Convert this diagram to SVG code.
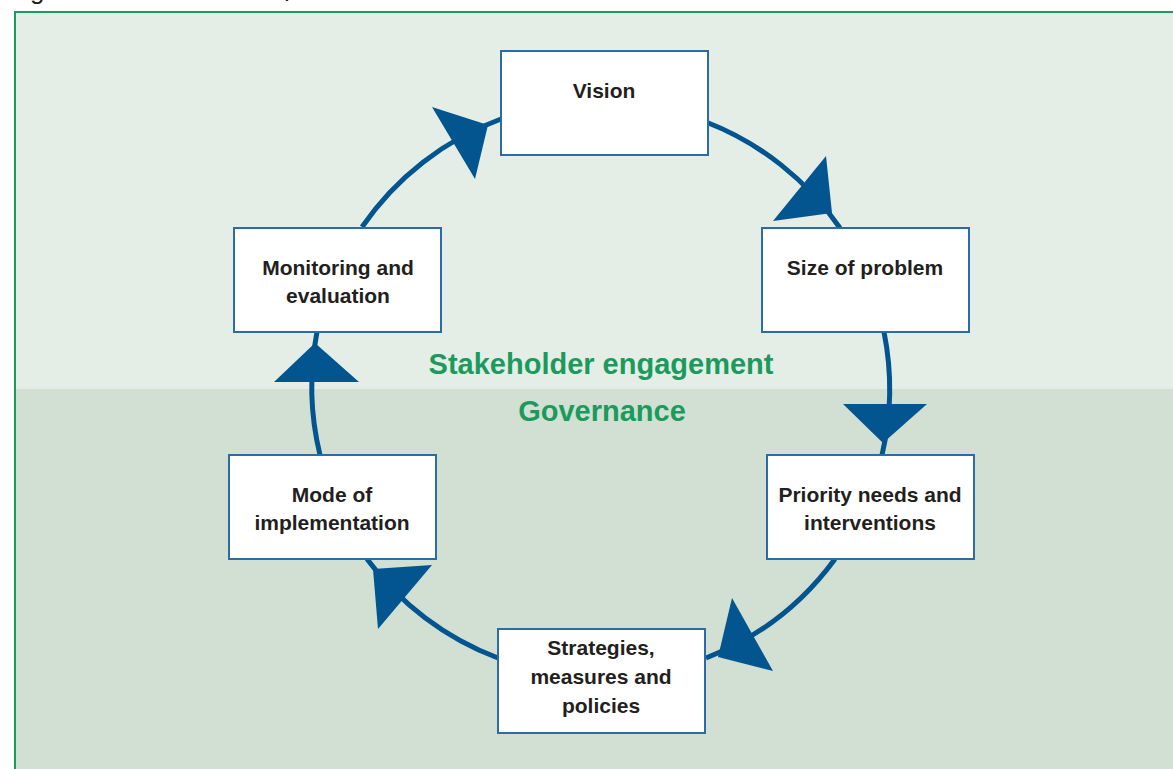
<svg xmlns="http://www.w3.org/2000/svg" width="1173" height="769" viewBox="0 0 1173 769">
<style>
.box{fill:#ffffff;stroke:#2a6ca3;stroke-width:2}
.lbl{font-family:"Liberation Sans",Arial,sans-serif;font-weight:bold;font-size:21px;fill:#231f20;text-anchor:middle}
.ctr{font-family:"Liberation Sans",Arial,sans-serif;font-weight:bold;font-size:29px;fill:#1c9a5e;text-anchor:middle}
.arc{fill:none;stroke:#03558f;stroke-width:5}
.head{fill:#03558f}
.ttl{font-family:"Liberation Sans",Arial,sans-serif;font-size:26px;fill:#231f20}
</style>
<rect x="0" y="0" width="1173" height="769" fill="#ffffff"/>
<text class="ttl" x="30" y="-1">g</text>
<text class="ttl" x="284" y="-4">p</text>
<g id="panel">
<rect x="15" y="12" width="1200" height="800" fill="#e4eee7"/>
<rect x="16" y="389" width="1200" height="420" fill="#d1e0d3"/>
<rect x="15" y="12" width="1200" height="800" fill="none" stroke="#1b9b5f" stroke-width="2"/>
</g>
<g id="connectors">
<path class="arc" d="M706,122 A289,289 0 0 1 840,228"/>
<polygon class="head" points="826,156 773,221 832,213"/>
<path class="arc" d="M884,332 A289,289 0 0 1 882,455"/>
<polygon class="head" points="843,404 927,404 883,443"/>
<path class="arc" d="M835,559 A289,289 0 0 1 706,658"/>
<polygon class="head" points="732,598 773,671 718,657"/>
<path class="arc" d="M498,658 A289,289 0 0 1 367,559"/>
<polygon class="head" points="432,565 378,629 373,569"/>
<path class="arc" d="M320,455 A289,289 0 0 1 317,332"/>
<polygon class="head" points="274,382 359,382 315,343"/>
<path class="arc" d="M362,227 A289,289 0 0 1 501,119"/>
<polygon class="head" points="432,107 475,179 488,125"/>
</g>
<g id="center-labels">
<text class="ctr" x="601" y="374">Stakeholder engagement</text>
<text class="ctr" x="602" y="421">Governance</text>
</g>
<g id="vision">
<rect class="box" x="501" y="51" width="207" height="104"/>
<text class="lbl" x="604" y="98">Vision</text>
</g>
<g id="size-of-problem">
<rect class="box" x="762" y="228" width="207" height="104"/>
<text class="lbl" x="865" y="275">Size of problem</text>
</g>
<g id="priority-needs">
<rect class="box" x="767" y="455" width="207" height="104"/>
<text class="lbl" x="870" y="502">Priority needs and</text>
<text class="lbl" x="870" y="530">interventions</text>
</g>
<g id="strategies">
<rect class="box" x="498" y="629" width="207" height="104"/>
<text class="lbl" x="601" y="655">Strategies,</text>
<text class="lbl" x="601" y="684">measures and</text>
<text class="lbl" x="601" y="713">policies</text>
</g>
<g id="mode-of-implementation">
<rect class="box" x="229" y="455" width="207" height="104"/>
<text class="lbl" x="332" y="502">Mode of</text>
<text class="lbl" x="332" y="530">implementation</text>
</g>
<g id="monitoring">
<rect class="box" x="234" y="228" width="207" height="104"/>
<text class="lbl" x="338" y="275">Monitoring and</text>
<text class="lbl" x="338" y="303">evaluation</text>
</g>
</svg>
